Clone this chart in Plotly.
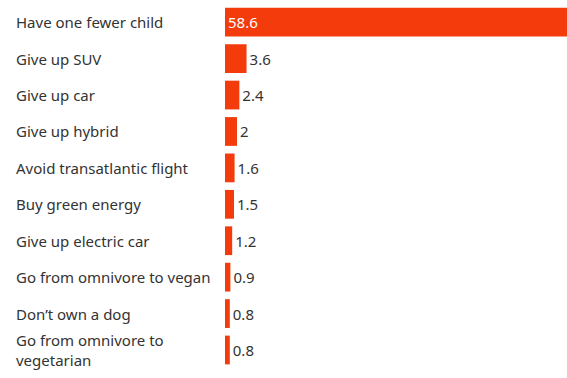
import plotly.graph_objects as go

# Annual CO2-equivalent savings per action (tonnes)
actions = [
    "Have one fewer child",
    "Give up SUV",
    "Give up car",
    "Give up hybrid",
    "Avoid transatlantic flight",
    "Buy green energy",
    "Give up electric car",
    "Go from omnivore to vegan",
    "Don\u2019t own a dog",
    "Go from omnivore to<br>vegetarian",
]
savings = [58.6, 3.6, 2.4, 2, 1.6, 1.5, 1.2, 0.9, 0.8, 0.8]
value_text = ["58.6", "3.6", "2.4", "2", "1.6", "1.5", "1.2", "0.9", "0.8", "0.8"]

BAR = "#f33b0c"
INK = "#333333"
FONT = "Noto Sans"

positions = ["inside"] + ["outside"] * (len(savings) - 1)
text_colors = ["white"] + [INK] * (len(savings) - 1)

fig = go.Figure(
    go.Bar(
        x=savings,
        y=actions,
        orientation="h",
        marker=dict(color=BAR, line=dict(width=0)),
        text=value_text,
        textposition=positions,
        insidetextanchor="start",
        textfont=dict(family=FONT, size=15, color=text_colors),
        cliponaxis=True,
        hoverinfo="skip",
    )
)

# left-aligned row labels
for name in actions:
    fig.add_annotation(
        x=0, xref="paper", y=name, yref="y",
        text=name, showarrow=False,
        xanchor="left", xshift=-211, align="left",
        font=dict(family=FONT, size=15, color=INK),
    )

fig.update_layout(
    width=567, height=378,
    margin=dict(l=225, r=0, t=4, b=6),
    paper_bgcolor="white", plot_bgcolor="white",
    bargap=0.21,
    showlegend=False,
    uniformtext=dict(mode=False),
)
fig.update_xaxes(range=[0, 57.1], visible=False, fixedrange=True)
fig.update_yaxes(
    autorange="reversed", showticklabels=False, showgrid=False,
    zeroline=False, showline=False, ticks="", fixedrange=True,
)

fig.write_html("out.html", config={"displayModeBar": False})
